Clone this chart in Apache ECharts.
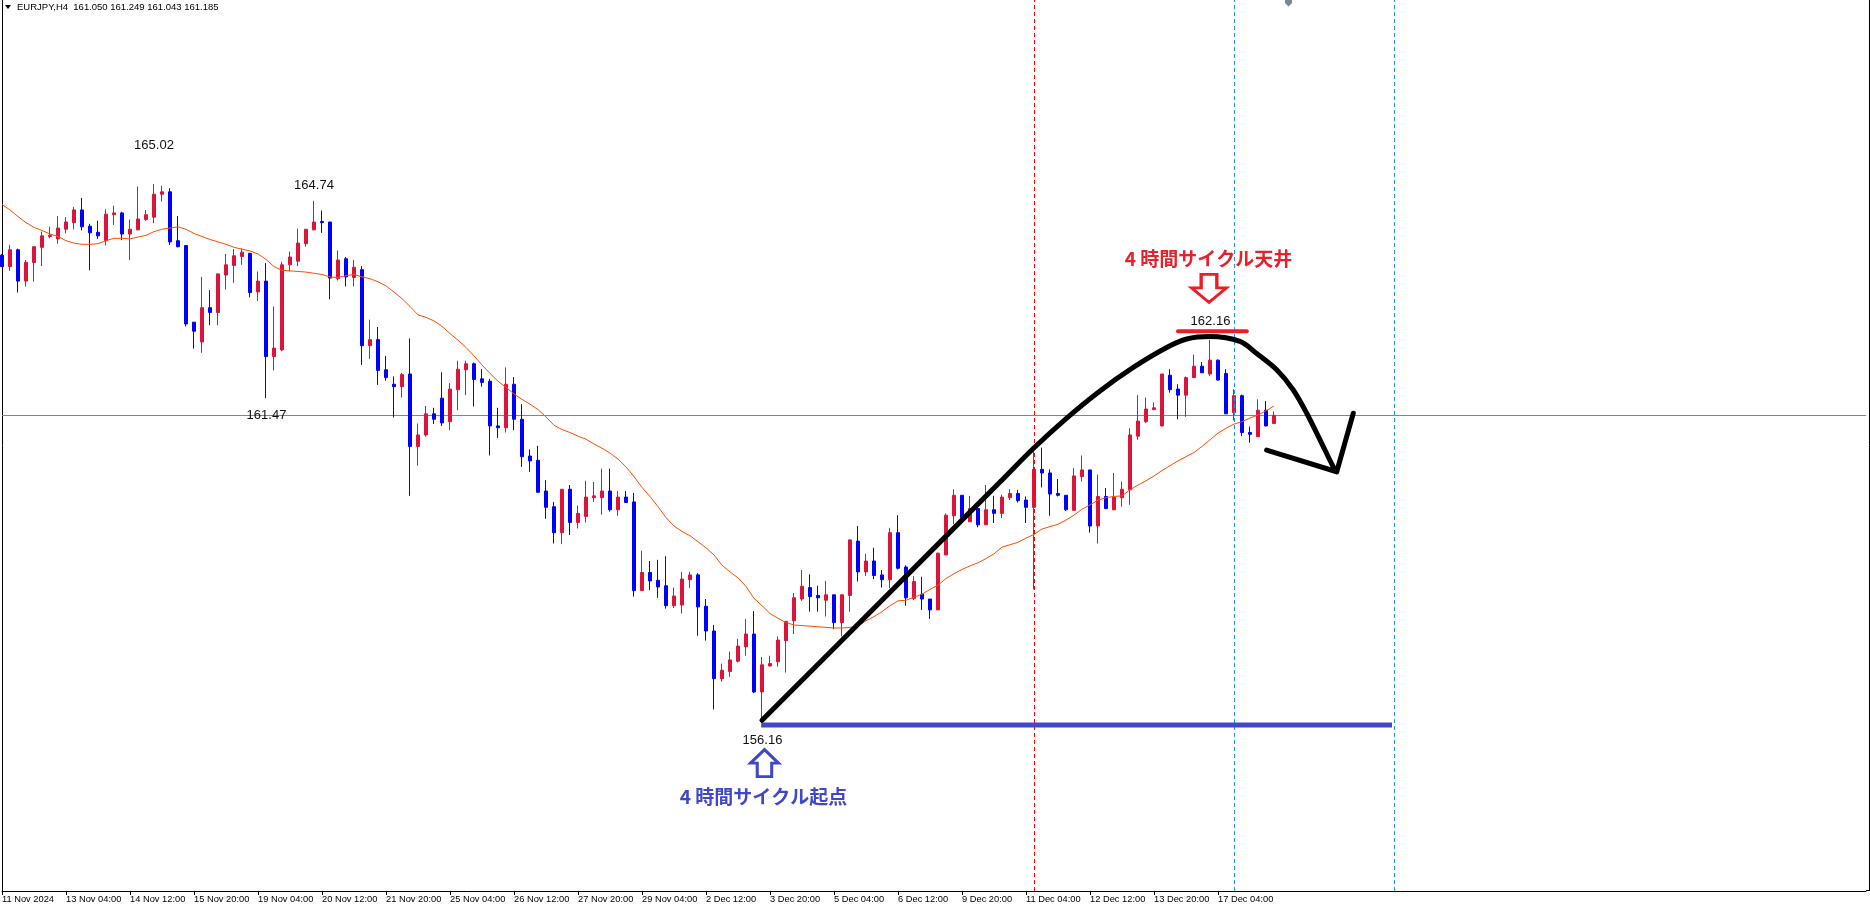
<!DOCTYPE html>
<html><head><meta charset="utf-8">
<script src="https://cdn.jsdelivr.net/npm/echarts/dist/echarts.min.js"></script>
<style>html,body{margin:0;padding:0;background:#fff;overflow:hidden}#c{width:1870px;height:907px}</style>
</head><body><div id="c"></div>
<script>
// ---- data (EURJPY, H4) ----
const tickLabels = ['11 Nov 2024','13 Nov 04:00','14 Nov 12:00','15 Nov 20:00','19 Nov 04:00','20 Nov 12:00','21 Nov 20:00','25 Nov 04:00','26 Nov 12:00','27 Nov 20:00','29 Nov 04:00','2 Dec 12:00','3 Dec 20:00','5 Dec 04:00','6 Dec 12:00','9 Dec 20:00','11 Dec 04:00','12 Dec 12:00','13 Dec 20:00','17 Dec 04:00'];
const opens = [163.84,163.65,163.93,163.41,163.72,163.97,164.15,164.11,164.27,164.38,
164.59,164.32,164.22,164.08,164.51,164.54,164.19,164.26,164.43,164.47,
164.85,164.89,164.08,164.00,162.73,162.40,162.97,162.89,163.51,163.67,
163.82,163.87,163.23,163.41,162.16,162.27,163.68,163.74,164.03,164.26,
164.40,164.39,163.45,163.78,163.47,163.60,162.34,162.44,161.94,161.70,
161.66,161.87,160.67,160.86,161.21,161.47,161.08,161.61,161.94,162.04,
161.79,161.75,161.01,160.98,161.70,161.12,160.51,160.44,159.93,159.67,
159.24,159.96,159.41,159.51,159.82,159.82,159.93,159.62,159.83,159.75,
158.28,158.58,158.45,158.36,158.03,158.04,158.46,158.54,158.02,157.61,
156.82,156.94,157.11,157.35,157.56,156.60,157.03,157.10,157.45,157.78,
158.14,158.33,158.20,158.12,158.21,157.75,158.20,159.10,158.59,158.77,
158.54,158.46,159.24,158.67,158.15,158.22,158.14,157.96,158.87,159.52,
159.86,159.42,159.64,159.37,159.62,159.56,159.82,159.89,159.78,159.66,
160.29,160.23,159.89,159.86,159.61,160.17,160.28,159.35,159.84,159.62,
159.82,159.95,160.84,161.08,161.28,161.01,161.85,161.62,161.52,161.81,
162.00,161.87,162.10,161.88,161.23,161.51,160.90,160.83,161.27,161.05];
const closes = [163.65,163.93,163.41,163.72,163.98,164.16,164.17,164.29,164.39,164.59,
164.31,164.21,164.16,164.52,164.54,164.19,164.27,164.44,164.51,164.85,
164.89,164.06,163.98,162.70,162.58,162.97,162.89,163.53,163.68,163.83,
163.89,163.22,163.41,162.16,162.30,163.68,163.81,164.04,164.27,164.39,
164.38,163.46,163.76,163.48,163.64,162.34,162.44,161.93,161.81,161.66,
161.86,160.67,160.86,161.21,161.12,161.06,161.62,161.95,162.04,161.78,
161.73,161.01,160.98,161.70,161.12,160.50,160.43,159.91,159.66,159.24,
159.96,159.41,159.56,159.83,159.85,159.93,159.62,159.83,159.74,158.28,
158.58,158.44,158.34,158.03,158.19,158.47,158.54,158.01,157.61,156.82,
156.96,157.13,157.36,157.56,156.60,157.05,157.07,157.46,157.77,158.16,
158.35,158.18,158.16,158.21,157.75,158.21,159.12,158.59,158.77,158.53,
158.46,159.24,158.65,158.16,158.43,158.14,157.96,158.90,159.53,159.86,
159.49,159.64,159.37,159.62,159.56,159.83,159.89,159.77,159.66,160.29,
160.23,159.88,159.86,159.62,160.18,160.28,159.35,159.84,159.64,159.83,
159.96,160.86,161.09,161.29,161.31,161.87,161.61,161.52,161.81,162.00,
161.89,162.10,161.77,161.21,161.51,160.90,160.87,161.27,161.01,161.185];
const lows = [163.65,163.58,163.22,163.32,163.40,163.66,164.12,164.03,164.20,164.27,
164.25,163.59,164.11,164.00,164.34,164.09,163.76,164.25,164.41,164.37,
164.73,164.01,163.97,162.66,162.29,162.22,162.68,162.68,163.27,163.38,
163.68,163.14,163.08,161.47,161.93,162.25,163.57,163.66,163.98,164.25,
164.21,163.11,163.42,163.32,163.32,162.02,162.12,161.69,161.76,161.15,
161.48,159.85,160.35,160.83,161.04,161.01,160.94,161.27,161.52,161.33,
161.66,160.52,160.81,160.90,160.94,160.33,160.25,159.90,159.47,159.06,
159.05,159.20,159.31,159.41,159.75,159.54,159.59,159.52,159.74,158.18,
158.28,158.29,158.16,157.98,157.99,157.90,158.32,157.53,157.45,156.31,
156.77,156.85,157.09,157.20,156.58,156.16,157.02,157.02,156.92,157.56,
158.11,157.93,157.93,157.85,157.64,157.52,157.93,158.43,158.52,158.47,
158.33,158.32,158.63,158.03,158.12,157.96,157.81,157.96,158.87,159.38,
159.48,159.42,159.33,159.37,159.40,159.48,159.78,159.74,159.40,158.30,
159.99,159.52,159.84,159.60,159.61,160.09,159.24,159.06,159.63,159.61,
159.67,159.70,160.78,161.06,161.27,161.00,161.56,161.12,161.16,161.81,
161.89,161.84,161.76,161.21,161.10,160.84,160.73,160.83,161.00,161.043];
const highs = [163.86,164.01,163.95,163.76,163.99,164.23,164.31,164.49,164.47,164.64,
164.79,164.36,164.41,164.60,164.66,164.56,164.43,164.98,164.59,165.02,
164.99,164.95,164.49,164.01,162.73,163.48,163.26,163.53,163.86,163.94,
163.95,163.88,163.57,163.71,162.99,163.73,163.90,164.28,164.27,164.74,
164.58,164.39,163.92,163.81,163.76,163.66,162.77,162.65,162.17,161.83,
161.89,162.46,161.05,161.34,161.31,161.90,161.72,162.09,162.09,162.06,
161.95,161.79,161.31,161.98,161.82,161.37,160.62,160.68,160.11,159.75,
159.96,160.03,159.69,160.10,160.08,160.30,160.30,159.93,159.93,159.90,
158.94,158.77,158.79,158.85,158.33,158.59,158.59,158.57,158.14,157.71,
157.07,157.27,157.48,157.81,157.94,157.18,157.20,157.52,157.77,158.24,
158.62,158.55,158.36,158.44,158.21,158.21,159.13,159.35,158.89,158.99,
158.62,159.32,159.53,158.70,158.52,158.51,158.14,158.91,159.56,159.96,
159.86,159.85,159.68,160.03,159.85,159.87,159.96,159.95,159.84,160.67,
160.65,160.29,160.13,159.86,160.31,160.52,160.28,160.20,159.98,160.23,
160.09,160.97,161.52,161.48,161.40,161.87,161.95,161.70,161.83,162.19,
162.07,162.44,162.11,161.95,161.62,161.53,161.00,161.45,161.42,161.249];
const maValues = [164.68,164.59,164.48,164.38,164.30,164.25,164.19,164.15,164.08,164.04,
164.02,164.02,164.03,164.08,164.12,164.12,164.11,164.14,164.17,164.23,
164.27,164.29,164.31,164.27,164.20,164.15,164.10,164.06,164.02,163.97,
163.94,163.91,163.86,163.77,163.65,163.59,163.58,163.57,163.56,163.54,
163.52,163.48,163.47,163.50,163.52,163.48,163.45,163.40,163.33,163.23,
163.12,162.99,162.85,162.81,162.75,162.66,162.54,162.43,162.31,162.17,
162.02,161.88,161.75,161.65,161.54,161.45,161.37,161.28,161.16,161.02,
160.95,160.90,160.84,160.79,160.71,160.64,160.56,160.46,160.33,160.17,
159.99,159.84,159.67,159.49,159.35,159.26,159.19,159.09,158.99,158.87,
158.70,158.59,158.49,158.35,158.15,158.03,157.90,157.82,157.75,157.71,
157.70,157.69,157.68,157.67,157.66,157.66,157.67,157.69,157.78,157.85,
157.93,158.03,158.11,158.12,158.17,158.22,158.30,158.37,158.48,158.56,
158.63,158.69,158.74,158.81,158.89,159.00,159.04,159.08,159.15,159.21,
159.30,159.34,159.38,159.45,159.53,159.63,159.70,159.78,159.82,159.84,
159.85,159.95,160.03,160.10,160.18,160.27,160.35,160.43,160.50,160.57,
160.67,160.78,160.89,160.97,161.04,161.08,161.14,161.19,161.26,161.34];
const bidPrice = 161.185;
const headerText = 'EURJPY,H4  161.050 161.249 161.043 161.185';

// ---- hand-drawn annotations, in (bar index, price) coordinates ----
const priceNotes = [['165.02',19,165.66],['164.74',39,165.00],['161.47',33.06,161.19],['156.16',95.06,155.80],['162.16',151.06,162.75]];
const cyclePath = [[95,156.13],[110,158.12],[124.75,160.08],[128.91,160.635],[133.09,161.14],[137.25,161.59],[141.41,161.98],[145.59,162.31],[148.09,162.45],[151.0,162.49],[154.75,162.41],[156.84,162.21],[159.34,161.94],[161.41,161.605],[163.09,161.22],[164.75,160.78],[166.41,160.33],[166.84,160.25]];
const arrowHead = [[158.08,160.61],[166.84,160.25],[168.91,161.22]];
const baseLine = [[94.9,156.05],[173.75,156.05]];
const topLine = [[147.0,162.58],[155.6,162.58]];
const vLines = [[129,'#ff0000'],[154,'#1e90ff'],[174,'#1e90ff']];

const N_SLOTS = 234;
const cats = Array.from({length:N_SLOTS},(_,i)=>String(i));
const candles = opens.map((o,i)=>[o,closes[i],lows[i],highs[i]]);
const showTick = (i)=> i%8===0 && i/8 < tickLabels.length;

const chart = echarts.init(document.getElementById('c'), null, {renderer:'canvas'});
const font = '"Liberation Sans", Arial, sans-serif';
const cjk = '"Noto Sans CJK JP", "Noto Sans", sans-serif';

chart.setOption({
  animation:false,
  backgroundColor:'#ffffff',
  grid:{left:2, top:0, width:1864, bottom:16, containLabel:false, outerBoundsMode:'none'},
  xAxis:[
    {type:'category', data:cats, boundaryGap:false,
     axisLine:{show:true, lineStyle:{color:'#000', width:1}},
     axisTick:{show:true, length:4, interval:(i)=>showTick(i), lineStyle:{color:'#000'}},
     axisLabel:{show:true, interval:(i)=>showTick(i), align:'left', margin:4,
       fontSize:9.3, fontFamily:font, color:'#000',
       formatter:(v,i)=> showTick(i) ? tickLabels[i/8] : ''},
     splitLine:{show:false}},
    {type:'value', min:0, max:N_SLOTS-1, show:false}
  ],
  yAxis:[{type:'value', min:153.30, max:168.07, scale:true,
     axisLine:{show:true, lineStyle:{color:'#000'}}, axisTick:{show:false},
     axisLabel:{show:false}, splitLine:{show:false}}],
  series:[
    {type:'candlestick', name:'EURJPY', data:candles, barWidth:4, z:3,
     itemStyle:{color:'#dc143c', color0:'#0000ff', borderColor:'#dc143c', borderColor0:'#0000ff', borderWidth:1},
     markLine:{silent:true, symbol:['none','none'], label:{show:false},
       lineStyle:{color:'#778899', width:1, type:'solid'}, data:[{yAxis:bidPrice}], z:1}},
    {type:'line', name:'MA', data:maValues, symbol:'none', z:4,
     lineStyle:{color:'#ff4d00', width:1}},
    {type:'line', xAxisIndex:1, data:baseLine, symbol:'none', z:5, silent:true,
     lineStyle:{color:'#4048c8', width:5, cap:'butt'},
     markLine:{silent:true, symbol:['none','none'], label:{show:false},
       data: vLines.map(v=>({xAxis:v[0], lineStyle:{color:v[1], width:1, type:[4,3]}}))},
     markPoint:{silent:true, data:[
       {coord:[95.31,155.42], symbol:'path://M15.5,0L31,15L23.5,15L23.5,30L7.5,30L7.5,15L0,15Z', symbolSize:[28,27],
        itemStyle:{color:'#ffffff', borderColor:'#4048c8', borderWidth:3}, label:{show:false}},
       {coord:[150.875,163.29], symbol:'path://M10.5,0L27.5,0L27.5,15L38,15L19,31L0,15L10.5,15Z', symbolSize:[35,28],
        itemStyle:{color:'#ffffff', borderColor:'#ee1c25', borderWidth:3}, label:{show:false}},
       {coord:[150.8,163.78], symbol:'rect', symbolSize:1, itemStyle:{color:'rgba(0,0,0,0)'},
        label:{show:true, position:'inside', formatter:'4 時間サイクル天井', color:'#e8202a', fontSize:19, fontWeight:'bold', fontFamily:cjk}},
       {coord:[95.19,154.87], symbol:'rect', symbolSize:1, itemStyle:{color:'rgba(0,0,0,0)'},
        label:{show:true, position:'inside', formatter:'4 時間サイクル起点', color:'#4048c8', fontSize:19, fontWeight:'bold', fontFamily:cjk}}
     ].concat(priceNotes.map(n=>({coord:[n[1],n[2]], symbol:'rect', symbolSize:1, itemStyle:{color:'rgba(0,0,0,0)'},
        label:{show:true, position:'inside', formatter:n[0], color:'#111', fontSize:13, fontFamily:font}})))}},
    {type:'line', xAxisIndex:1, data:topLine, symbol:'none', z:5, silent:true,
     lineStyle:{color:'#ee1c25', width:4, cap:'round'}},
    {type:'line', xAxisIndex:1, data:cyclePath, symbol:'none', smooth:0.3, z:6, silent:true,
     lineStyle:{color:'#000', width:5, cap:'round', join:'round'}},
    {type:'line', xAxisIndex:1, data:arrowHead, symbol:'none', z:6, silent:true,
     lineStyle:{color:'#000', width:5, cap:'round', join:'round'}}
  ],
  graphic:[
    {type:'line', shape:{x1:1869.5, y1:0, x2:1869.5, y2:891}, style:{stroke:'#000', lineWidth:1}, silent:true},
    {type:'line', shape:{x1:1866, y1:890.5, x2:1870, y2:890.5}, style:{stroke:'#000', lineWidth:1}, silent:true},
    {type:'polygon', shape:{points:[[5,5],[11,5],[8,9]]}, style:{fill:'#000'}, silent:true},
    {type:'polygon', shape:{points:[[1285,0],[1292,0],[1292,3],[1288.5,6.5],[1285,3]]}, style:{fill:'#778899'}, silent:true},
    {type:'text', style:{x:17, y:7.5, text:headerText, verticalAlign:'middle', fontSize:9.5, fontFamily:font, fill:'#000'}, silent:true}
  ]
});
</script>
</body></html>
